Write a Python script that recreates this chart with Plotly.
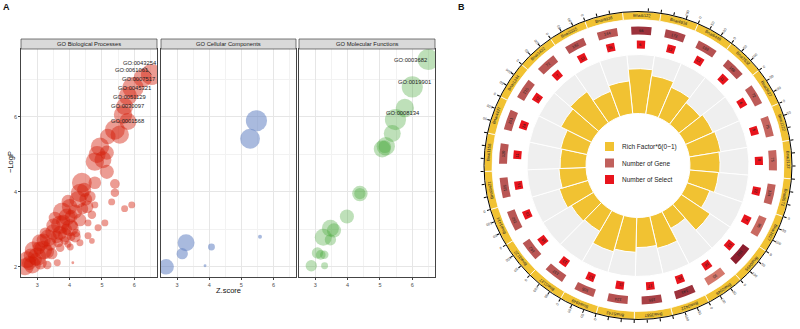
import numpy as np
import plotly.graph_objects as go

# ================= Panel A data =================
bp_z = [6.53, 6.26, 5.96, 5.80, 5.70, 5.65, 5.80, 5.40, 5.55, 5.18, 4.94, 4.85, 5.15, 4.78, 5.03,
        5.15, 4.38, 4.78, 5.40, 4.32, 5.40, 4.63, 4.26, 5.30, 4.78, 5.92, 5.70, 4.54, 4.17, 3.77,
        4.69, 3.92, 4.32, 4.57, 5.09, 3.71, 4.02, 4.88, 3.49, 3.86, 4.57, 4.17, 4.69, 3.34, 4.32,
        4.02, 3.71, 3.09, 3.18, 2.88, 3.00, 2.69, 3.31, 3.62, 4.10, 2.63, 2.85,
        3.20, 3.40, 3.50, 3.60, 3.80, 3.90, 3.55, 4.00, 4.05, 3.30, 2.95, 2.80, 3.10, 3.25, 3.65,
        3.85, 4.10, 4.20, 3.45, 3.05, 4.40, 4.50, 4.45, 3.95, 3.70, 2.75, 3.95, 4.05]
bp_logp = [7.12, 7.03, 6.77, 6.55, 6.27, 6.05, 5.87, 5.65, 5.52, 5.47, 5.20, 4.99, 5.04, 4.80, 4.85,
           4.53, 4.24, 4.24, 4.21, 3.97, 3.97, 3.87, 3.79, 3.73, 3.65, 3.65, 3.55, 3.60, 3.47, 3.47,
           3.39, 3.33, 3.25, 3.17, 3.17, 3.12, 3.04, 3.04, 2.93, 2.85, 2.83, 2.80, 2.69, 2.77, 2.64,
           2.53, 2.51, 2.64, 2.45, 2.45, 2.27, 2.19, 2.05, 2.11, 2.11, 2.00, 2.05,
           2.70, 2.60, 3.10, 2.80, 3.20, 3.00, 3.30, 3.60, 3.35, 2.40, 2.20, 2.30, 2.10, 2.90, 2.65,
           2.70, 3.10, 2.90, 2.35, 2.50, 3.55, 3.80, 4.05, 3.75, 2.90, 2.10, 2.60, 2.80]
bp_count = [56, 42, 56, 42, 36, 42, 36, 49, 42, 30, 42, 36, 25, 42, 36,
            25, 49, 20, 12, 42, 9, 16, 36, 6, 6, 6, 6, 20, 25, 42,
            9, 36, 20, 6, 6, 42, 36, 6, 30, 25, 6, 16, 4, 36, 6,
            6, 9, 36, 42, 36, 42, 36, 9, 6, 1, 36, 36,
            25, 20, 25, 20, 25, 16, 20, 30, 20, 25, 20, 25, 20, 16, 12,
            9, 12, 9, 16, 20, 16, 20, 25, 20, 25, 25, 6, 9]

cc_z = [5.47, 5.27, 3.28, 3.16, 4.07, 2.66, 3.87, 5.58]
cc_logp = [5.89, 5.41, 2.64, 2.35, 2.53, 2.00, 2.03, 2.80]
cc_count = [56, 49, 36, 16, 6, 30, 1, 2]

mf_z = [6.49, 6.00, 5.77, 5.48, 5.38, 5.18, 5.07, 5.15, 4.38, 4.38, 3.98, 3.47, 3.58, 3.25,
        3.47, 3.07, 3.17, 3.28, 2.88, 3.29]
mf_logp = [7.52, 6.79, 6.23, 5.92, 5.55, 5.21, 5.14, 5.20, 3.95, 3.95, 3.34, 3.03, 2.97, 2.79,
           2.72, 2.37, 2.32, 2.32, 2.03, 2.03]
mf_count = [56, 56, 42, 56, 36, 42, 36, 20, 30, 16, 25, 36, 25, 36, 16, 16, 12, 9, 16, 6]

bp_labels = ["GO:0043254", "GO:0061061", "GO:0007517", "GO:0045321", "GO:0051129", "GO:0030097", "GO:0001568"]
bp_label_z = [6.14, 5.92, 6.14, 6.00, 5.85, 5.80, 5.78]
bp_label_logp = [7.44, 7.23, 6.99, 6.75, 6.53, 6.27, 5.89]
mf_labels = ["GO:0003682", "GO:0019901", "GO:0008134"]
mf_label_z = [5.94, 6.08, 5.71]
mf_label_logp = [7.52, 6.93, 6.09]

facet_titles = ["GO Biological Processes", "GO Cellular Components", "GO Molecular Functions"]

# ================= Panel B data =================
sector_names = ["Bnai5122", "Bnai4934", "Bnai6448", "Bnai7632", "Bnai3427", "Bnai1122", "Bnai2122",
                "Bnai0572", "Bnai1827", "Bnai0495", "Bnai2046", "Bnai2422", "Bnai3587", "Bnai5743",
                "Bnai4949", "Bnai1127", "Bnai3122", "Bnai1414", "Bnai9421", "Bnai1158", "Bnai4427",
                "Bnai1244", "Bnai1422", "Bnai3335", "Bnai9936"]
rich_factor = [0.76, 0.66, 0.56, 0.46, 0.51, 0.54, 0.51, 0.49, 0.41, 0.59, 0.32, 0.56, 0.51,
               0.59, 0.64, 0.41, 0.44, 0.51, 0.46, 0.44, 0.46, 0.58, 0.64, 0.46, 0.56]
gene_num = [66, 172, 133, 166, 72, 75, 75, 124, 96, 192, 95, 143, 165, 124, 105, 132, 142,
            152, 105, 120, 151, 215, 72, 182, 144]
select_num = [6, 12, 12, 11, 6, 5, 8, 12, 7, 13, 16, 15, 17, 11, 12, 13, 14, 13, 14, 11, 14,
              12, 7, 13, 36]
gene_shade = [0.8, 0.6, 0.5, 0.5, 0.4, 0.3, 0.3, 0.35, 0.25, 1.0, 0.1, 0.8, 0.65, 0.5, 0.45,
              0.45, 0.45, 0.45, 0.45, 0.45, 0.45, 0.45, 0.45, 0.5, 0.45]
axis_ticks = [0, 50, 100]
axis_max = 150

W, H = 800, 329
FONT = "Liberation Sans"
fig = go.Figure()

# ---------------- Panel A ----------------
xdoms = [(21 / W, 157 / W), (161 / W, 296 / W), (299 / W, 435 / W)]
ydom = [1 - 277 / H, 1 - 49 / H]
series = [(bp_z, bp_logp, bp_count, "rgba(212,28,8,0.62)"),
          (cc_z, cc_logp, cc_count, "rgba(105,135,198,0.82)"),
          (mf_z, mf_logp, mf_count, "rgba(70,165,55,0.5)")]
for k, (xs, ys, cs, col) in enumerate(series):
    sfx = "" if k == 0 else str(k + 1)
    fig.add_trace(go.Scatter(x=xs, y=ys, mode="markers", xaxis="x" + sfx, yaxis="y" + sfx,
                             marker=dict(size=cs, sizemode="area", sizeref=0.25, color=col,
                                         line=dict(width=0)),
                             showlegend=False, hoverinfo="skip"))

layout = dict(width=W, height=H, margin=dict(l=0, r=0, t=0, b=0),
              paper_bgcolor="white", plot_bgcolor="rgba(0,0,0,0)", showlegend=False,
              font=dict(family=FONT))
shapes = []
annotations = []


def pann(x, y, text, size, color="#111", **kw):
    d = dict(xref="paper", yref="paper", x=x / W, y=1 - y / H, text=text, showarrow=False,
             xanchor="center", yanchor="middle", font=dict(size=size, color=color))
    d.update(kw)
    return d


for k in range(3):
    sfx = "" if k == 0 else str(k + 1)
    layout["xaxis" + sfx] = dict(domain=list(xdoms[k]), range=[2.5, 6.7], anchor="y" + sfx,
                                 tick0=3, dtick=1, showgrid=True, gridcolor="#e6e6e6", gridwidth=0.6,
                                 minor=dict(dtick=0.5, tick0=2.5, showgrid=True, gridcolor="#f2f2f2",
                                            gridwidth=0.4),
                                 zeroline=False, showline=True, mirror=True, linecolor="#444",
                                 linewidth=0.8, ticks="outside", ticklen=2, tickcolor="#444",
                                 tickwidth=0.5, tickfont=dict(size=5.5, color="#4d4d4d"))
    layout["yaxis" + sfx] = dict(domain=ydom, range=[1.73, 7.8], anchor="x" + sfx,
                                 tick0=2, dtick=2, showgrid=True, gridcolor="#e6e6e6", gridwidth=0.6,
                                 minor=dict(dtick=1, tick0=1, showgrid=True, gridcolor="#f2f2f2",
                                            gridwidth=0.4),
                                 zeroline=False, showline=True, mirror=True, linecolor="#444",
                                 linewidth=0.8, ticks="outside" if k == 0 else "", ticklen=2,
                                 tickcolor="#444", tickwidth=0.5, showticklabels=(k == 0),
                                 tickfont=dict(size=5.5, color="#4d4d4d"))
    shapes.append(dict(type="rect", xref="paper", yref="paper", x0=xdoms[k][0], x1=xdoms[k][1],
                       y0=1 - 49 / H, y1=1 - 39 / H, fillcolor="#d9d9d9",
                       line=dict(color="#444", width=0.7)))
    annotations.append(pann((xdoms[k][0] + xdoms[k][1]) / 2 * W, 44.3, facet_titles[k], 5.8, "#1a1a1a"))

for i, (t, x, y) in enumerate(zip(bp_labels, bp_label_z, bp_label_logp)):
    a = dict(xref="x", yref="y", x=x, y=y, text=t, showarrow=False, xanchor="center",
             yanchor="middle", font=dict(size=5.8, color="#222"))
    if i == 0:
        a.update(showarrow=True, x=bp_z[0], y=bp_logp[0], ax=x + 0.05, ay=y, axref="x", ayref="y",
                 arrowhead=0, arrowwidth=0.6, arrowcolor="#222", standoff=0)
    annotations.append(a)
for t, x, y in zip(mf_labels, mf_label_z, mf_label_logp):
    annotations.append(dict(xref="x3", yref="y3", x=x, y=y, text=t, showarrow=False,
                            xanchor="center", yanchor="middle", font=dict(size=5.8, color="#222")))

annotations.append(pann((xdoms[1][0] + xdoms[1][1]) / 2 * W, 290, "Z.score", 7.5))
annotations.append(pann(10, 162, "−LogP", 7.5, textangle=-90))
annotations.append(pann(6, 7, "<b>A</b>", 9))
annotations.append(pann(461, 7, "<b>B</b>", 9))

# ---------------- Panel B ----------------
N = len(sector_names)
step = 360.0 / N
theta = [1.4 + step * i for i in range(N)]
R_OUT = 154.0
cx, cy = 638.0, 165.5
pdx = [(cx - R_OUT) / W, (cx + R_OUT) / W]
pdy = [(H - cy - R_OUT) / H, (H - cy + R_OUT) / H]

R_IN, RICH_H = 52.0, 59.0
SEL_B, GENE_B, BAND_B, RING_W = 117.0, 131.0, 146.0, 8.0

fig.add_trace(go.Barpolar(r=[RICH_H] * N, base=R_IN, theta=theta, width=step,
                          marker=dict(color="#efefef", line=dict(color="white", width=1)),
                          subplot="polar", showlegend=False, hoverinfo="skip"))
fig.add_trace(go.Barpolar(r=[v * RICH_H for v in rich_factor], base=R_IN, theta=theta, width=step,
                          marker=dict(color="#f1c232", line=dict(color="white", width=1)),
                          subplot="polar", showlegend=False, hoverinfo="skip"))
fig.add_trace(go.Barpolar(r=[RING_W] * N, base=SEL_B, theta=theta, width=3.9,
                          marker=dict(color="#e8141c", line=dict(width=0)),
                          subplot="polar", showlegend=False, hoverinfo="skip"))
light = np.array([222, 132, 116])
dark = np.array([140, 30, 46])
gene_cols = ["rgb(%d,%d,%d)" % tuple((light + (dark - light) * s).astype(int)) for s in gene_shade]
fig.add_trace(go.Barpolar(r=[RING_W] * N, base=GENE_B, theta=theta, width=8.5,
                          marker=dict(color=gene_cols, line=dict(width=0)),
                          subplot="polar", showlegend=False, hoverinfo="skip"))
fig.add_trace(go.Barpolar(r=[RING_W] * N, base=BAND_B, theta=theta, width=step,
                          marker=dict(color="#f1c232", line=dict(color="white", width=0.8)),
                          subplot="polar", showlegend=False, hoverinfo="skip"))

tick_angles = []
tick_info = []
for i in range(N):
    start = theta[i] - step / 2
    for tv in axis_ticks:
        ang = start + step * tv / axis_max
        tick_angles.append(ang)
        tick_info.append((ang, str(tv)))

layout["polar"] = dict(domain=dict(x=pdx, y=pdy), bgcolor="rgba(0,0,0,0)", barmode="overlay",
                       radialaxis=dict(visible=False, range=[0, R_OUT]),
                       angularaxis=dict(rotation=90, direction="clockwise", showgrid=False,
                                        showline=True, linecolor="black", linewidth=1,
                                        ticks="outside", ticklen=3, tickcolor="black", tickwidth=0.6,
                                        tickvals=tick_angles, showticklabels=False))
layout["xaxis4"] = dict(domain=pdx, range=[-R_OUT, R_OUT], visible=False, anchor="y4", fixedrange=True)
layout["yaxis4"] = dict(domain=pdy, range=[-R_OUT, R_OUT], visible=False, anchor="x4", fixedrange=True)
fig.add_trace(go.Scatter(x=[0], y=[0], xaxis="x4", yaxis="y4", mode="markers",
                         marker=dict(opacity=0), showlegend=False, hoverinfo="skip"))


def pxy(r, th):
    t = np.radians(th)
    return float(r * np.sin(t)), float(r * np.cos(t))


def norm(a):
    return ((a + 180) % 360) - 180


for i in range(N):
    for r, txt, fs in [(BAND_B + RING_W / 2, sector_names[i], 4.2),
                       (GENE_B + RING_W / 2, str(gene_num[i]), 4.0),
                       (SEL_B + RING_W / 2, str(select_num[i]), 4.0)]:
        x, y = pxy(r, theta[i])
        annotations.append(dict(xref="x4", yref="y4", x=x, y=y, text=txt, showarrow=False,
                                xanchor="center", yanchor="middle",
                                textangle=norm(theta[i]), font=dict(size=fs, color="#222")))
for ang, txt in tick_info:
    x, y = pxy(R_OUT + 6, ang)
    annotations.append(dict(xref="x4", yref="y4", x=x, y=y, text=txt, showarrow=False,
                            xanchor="center", yanchor="middle",
                            textangle=norm(ang - 90), font=dict(size=3.6, color="#333")))

# center legend
leg = [("Rich Factor*6(0~1)", "#f1c232"), ("Number of Gene", "#c0605c"), ("Number of Select", "#e8141c")]
for j, (txt, col) in enumerate(leg):
    yc = 146.5 + 16.5 * j
    shapes.append(dict(type="rect", xref="paper", yref="paper", x0=605 / W, x1=614 / W,
                       y0=1 - (yc + 4.5) / H, y1=1 - (yc - 4.5) / H, fillcolor=col, line=dict(width=0)))
    annotations.append(pann(620, yc, txt, 6.5, "#222", xanchor="left"))

layout["shapes"] = shapes
layout["annotations"] = annotations
fig.update_layout(**layout)
fig.write_html("out.html")
